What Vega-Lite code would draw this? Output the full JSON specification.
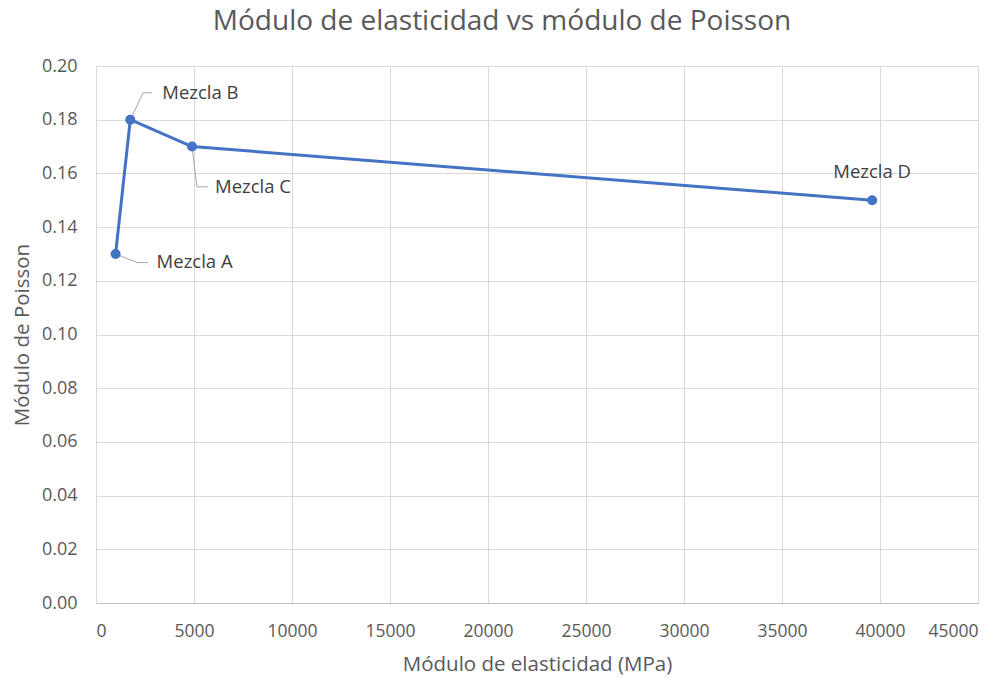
{
  "$schema": "https://vega.github.io/schema/vega-lite/v6.json",
  "autosize": {"type": "none"},
  "width": 882,
  "height": 537,
  "padding": {"left": 96, "top": 66, "right": 28, "bottom": 75},
  "background": "#ffffff",
  "title": {
    "text": "Módulo de elasticidad vs módulo de Poisson",
    "font": "Open Sans",
    "fontSize": 28,
    "fontWeight": "normal",
    "color": "#595959",
    "anchor": "middle",
    "dx": -35,
    "offset": 21
  },
  "config": {
    "view": {"stroke": null},
    "font": "Open Sans"
  },
  "data": {
    "values": [
      {"mezcla": "Mezcla A", "E": 1000, "nu": 0.13},
      {"mezcla": "Mezcla B", "E": 1750, "nu": 0.18},
      {"mezcla": "Mezcla C", "E": 4900, "nu": 0.17},
      {"mezcla": "Mezcla D", "E": 39600, "nu": 0.15}
    ]
  },
  "encoding": {
    "x": {
      "field": "E",
      "type": "quantitative",
      "scale": {"domain": [0, 45000], "nice": false, "zero": true},
      "axis": {
        "title": "Módulo de elasticidad (MPa)",
        "values": [0, 5000, 10000, 15000, 20000, 25000, 30000, 35000, 40000, 45000],
        "format": "d",
        "grid": true,
        "gridColor": "#d9d9d9",
        "gridWidth": 1,
        "domainColor": "#bfbfbf",
        "domainWidth": 1,
        "ticks": false,
        "tickSize": 0,
        "labelPadding": 19,
        "labelFont": "Open Sans",
        "labelFontSize": 17.5,
        "labelColor": "#595959",
        "titleFont": "Open Sans",
        "titleFontSize": 20.5,
        "titleFontWeight": "normal",
        "titleColor": "#595959",
        "titlePadding": 15
      }
    },
    "y": {
      "field": "nu",
      "type": "quantitative",
      "scale": {"domain": [0, 0.2], "nice": false},
      "axis": {
        "title": "Módulo de Poisson",
        "values": [0, 0.02, 0.04, 0.06, 0.08, 0.1, 0.12, 0.14, 0.16, 0.18, 0.2],
        "format": ".2f",
        "grid": true,
        "gridColor": "#d9d9d9",
        "gridWidth": 1,
        "domain": false,
        "ticks": false,
        "tickSize": 0,
        "labelPadding": 19,
        "labelFont": "Open Sans",
        "labelFontSize": 18,
        "labelColor": "#595959",
        "titleFont": "Open Sans",
        "titleFontSize": 20.5,
        "titleFontWeight": "normal",
        "titleColor": "#595959",
        "titlePadding": 9
      }
    }
  },
  "layer": [
    {
      "transform": [{"filter": "datum.mezcla == 'Mezcla A'"}],
      "mark": {"type": "rule", "color": "#a6a6a6", "strokeWidth": 1},
      "encoding": {"x2": {"datum": 2100}, "y2": {"datum": 0.1268}}
    },
    {
      "transform": [{"filter": "datum.mezcla == 'Mezcla A'"}],
      "mark": {"type": "rule", "color": "#a6a6a6", "strokeWidth": 1},
      "encoding": {"x": {"datum": 2100}, "y": {"datum": 0.1268}, "x2": {"datum": 2650}, "y2": {"datum": 0.1268}}
    },
    {
      "transform": [{"filter": "datum.mezcla == 'Mezcla B'"}],
      "mark": {"type": "rule", "color": "#a6a6a6", "strokeWidth": 1},
      "encoding": {"x2": {"datum": 2400}, "y2": {"datum": 0.19}}
    },
    {
      "transform": [{"filter": "datum.mezcla == 'Mezcla B'"}],
      "mark": {"type": "rule", "color": "#a6a6a6", "strokeWidth": 1},
      "encoding": {"x": {"datum": 2400}, "y": {"datum": 0.19}, "x2": {"datum": 2860}, "y2": {"datum": 0.19}}
    },
    {
      "transform": [{"filter": "datum.mezcla == 'Mezcla C'"}],
      "mark": {"type": "rule", "color": "#a6a6a6", "strokeWidth": 1},
      "encoding": {"x2": {"datum": 5150}, "y2": {"datum": 0.155}}
    },
    {
      "transform": [{"filter": "datum.mezcla == 'Mezcla C'"}],
      "mark": {"type": "rule", "color": "#a6a6a6", "strokeWidth": 1},
      "encoding": {"x": {"datum": 5150}, "y": {"datum": 0.155}, "x2": {"datum": 5700}, "y2": {"datum": 0.155}}
    },
    {
      "mark": {"type": "line", "interpolate": "linear", "color": "#4472c4", "strokeWidth": 3, "strokeJoin": "round", "strokeCap": "round"}
    },
    {
      "mark": {"type": "point", "filled": true, "size": 100, "color": "#4472c4", "opacity": 1}
    },
    {
      "transform": [{"filter": "datum.mezcla == 'Mezcla A'"}],
      "mark": {"type": "text", "align": "left", "baseline": "middle", "dx": 41, "dy": 8, "font": "Open Sans", "fontSize": 18.5, "color": "#404040"},
      "encoding": {"text": {"field": "mezcla"}}
    },
    {
      "transform": [{"filter": "datum.mezcla == 'Mezcla B'"}],
      "mark": {"type": "text", "align": "left", "baseline": "middle", "dx": 32, "dy": -27, "font": "Open Sans", "fontSize": 18.5, "color": "#404040"},
      "encoding": {"text": {"field": "mezcla"}}
    },
    {
      "transform": [{"filter": "datum.mezcla == 'Mezcla C'"}],
      "mark": {"type": "text", "align": "left", "baseline": "middle", "dx": 23, "dy": 40, "font": "Open Sans", "fontSize": 18.5, "color": "#404040"},
      "encoding": {"text": {"field": "mezcla"}}
    },
    {
      "transform": [{"filter": "datum.mezcla == 'Mezcla D'"}],
      "mark": {"type": "text", "align": "center", "baseline": "middle", "dx": 0, "dy": -28, "font": "Open Sans", "fontSize": 18.5, "color": "#404040"},
      "encoding": {"text": {"field": "mezcla"}}
    }
  ]
}
